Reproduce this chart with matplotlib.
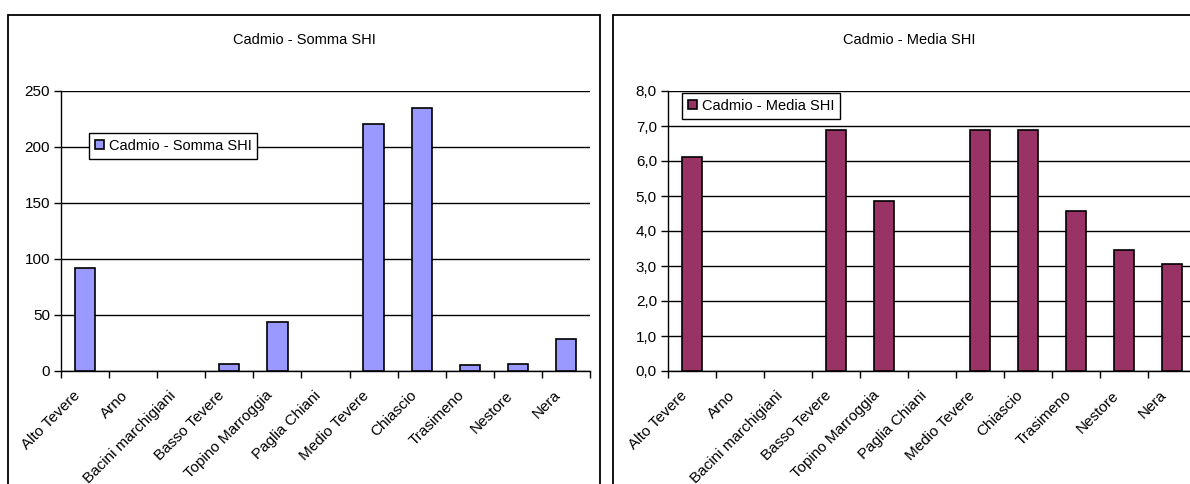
import matplotlib.pyplot as plt
import matplotlib.patches as mpatches
import numpy as np

plt.rcParams['font.family'] = ['Liberation Sans', 'DejaVu Sans']

bacini = ['Alto Tevere', 'Arno', 'Bacini marchigiani', 'Basso Tevere',
          'Topino Marroggia', 'Paglia Chiani', 'Medio Tevere', 'Chiascio',
          'Trasimeno', 'Nestore', 'Nera']
somma_shi = [92, 0, 0, 6.5, 43.8, 0, 220.5, 234.8, 5, 6.5, 28.3]
media_shi = [6.12, 0, 0, 6.89, 4.86, 0, 6.89, 6.89, 4.58, 3.45, 3.07]

W, H = 1190, 484
fig = plt.figure(figsize=(W / 100, H / 100), dpi=100)

# cornici dei due grafici
for x0, x1 in [(8, 600), (613, 1220)]:
    fig.patches.append(mpatches.Rectangle((x0 / W, -0.1), (x1 - x0) / W, 1 - 15 / H + 0.1,
                                          transform=fig.transFigure, fill=False,
                                          edgecolor='black', linewidth=1.3))


def grafico(rect, valori, colore, yticks, fmt, titolo, titolo_x, leg_pos):
    ax = fig.add_axes(rect)
    x = np.arange(len(bacini))
    barre = ax.bar(x, valori, width=0.42, color=colore, edgecolor='black', linewidth=1.2,
                   label=titolo, zorder=3)
    # le barre a zero non si disegnano
    for b, v in zip(barre, valori):
        if v == 0:
            b.set_visible(False)
    ax.set_xlim(-0.5, len(bacini) - 0.5)
    ax.set_ylim(yticks[0], yticks[-1])
    ax.set_yticks(yticks)
    ax.set_yticklabels([fmt(v) for v in yticks], fontsize=11)
    ax.yaxis.grid(True, color='black', linewidth=1, zorder=0)
    ax.set_xticks(np.arange(len(bacini) + 1) - 0.5, minor=False)
    ax.set_xticklabels([])
    # etichette leggermente a sinistra del centro della categoria
    ax.set_xticks(x - 0.15, minor=True)
    ax.set_xticklabels(bacini, minor=True, rotation=45, ha='right', va='center',
                       rotation_mode='anchor', fontsize=11)
    ax.tick_params(axis='x', which='minor', length=0, pad=16)
    ax.tick_params(axis='x', which='major', length=5, width=1, direction='out')
    ax.tick_params(axis='y', length=5, width=1, direction='out', pad=3)
    for s in ['top', 'right']:
        ax.spines[s].set_visible(False)
    for s in ['left', 'bottom']:
        ax.spines[s].set_linewidth(1)
    leg = ax.legend(loc='upper left', bbox_to_anchor=leg_pos, bbox_transform=fig.transFigure,
                    fontsize=10.5, frameon=True, fancybox=False, framealpha=1,
                    edgecolor='black', handlelength=0.6, handleheight=0.6,
                    handletextpad=0.35, borderpad=0.4, borderaxespad=0)
    leg.get_frame().set_linewidth(1)
    fig.text(titolo_x / W, 1 - 40 / H, titolo, ha='center', va='center', fontsize=10.5)
    return ax


grafico([61 / W, 1 - 371 / H, (590 - 61) / W, 280 / H], somma_shi, '#9999FF',
        [0, 50, 100, 150, 200, 250], lambda v: '%d' % v,
        'Cadmio - Somma SHI', 304, (89 / W, 1 - 133 / H))
grafico([668 / W, 1 - 371 / H, (1196 - 668) / W, 280 / H], media_shi, '#993366',
        [0, 1, 2, 3, 4, 5, 6, 7, 8], lambda v: ('%.1f' % v).replace('.', ','),
        'Cadmio - Media SHI', 909, (682 / W, 1 - 93 / H))

fig.savefig('out.png', dpi=100)
